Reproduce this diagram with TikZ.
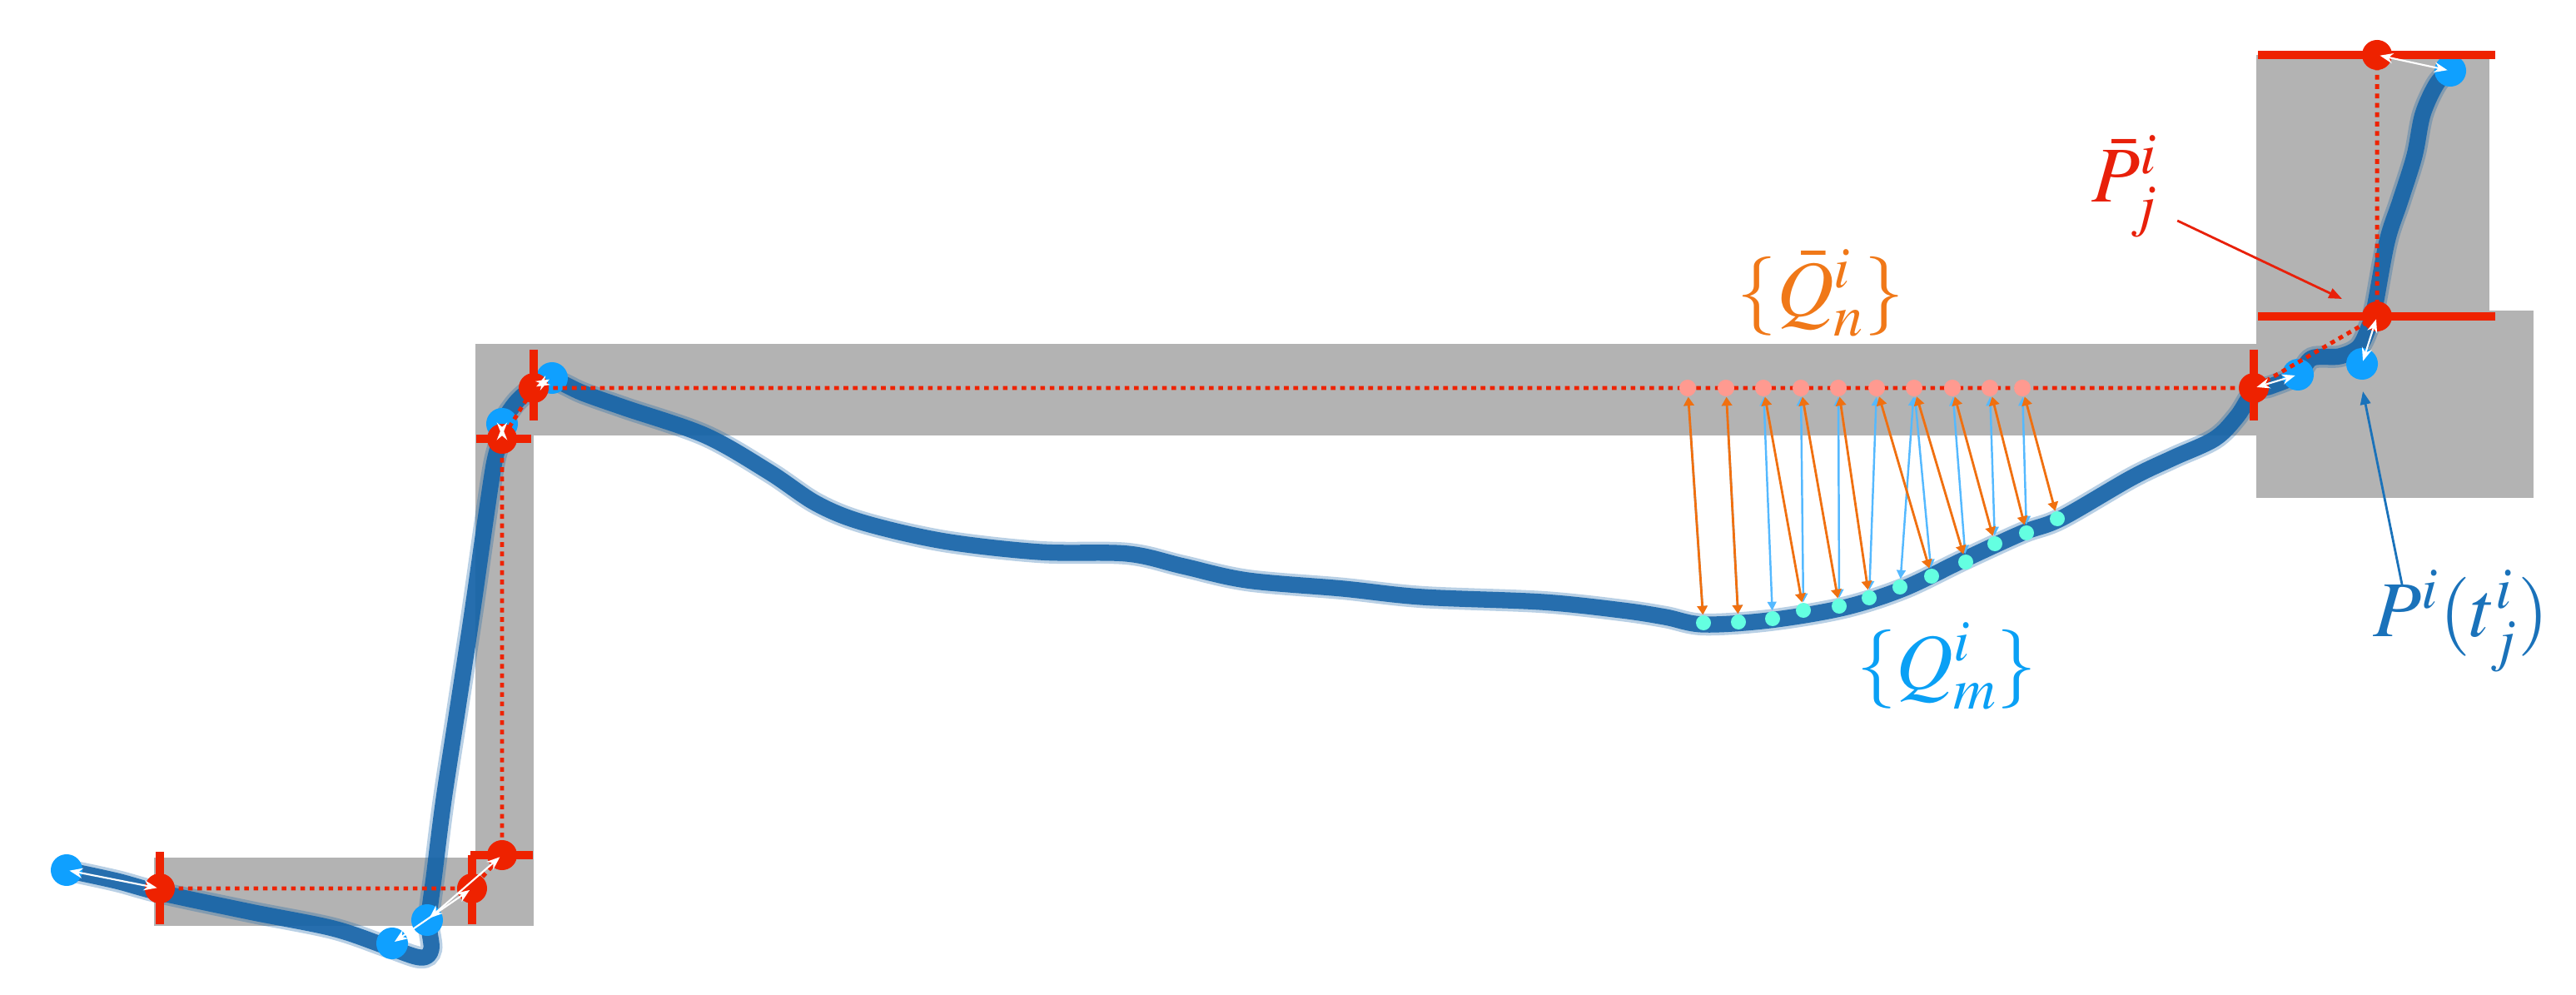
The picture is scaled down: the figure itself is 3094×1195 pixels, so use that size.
\documentclass[tikz,border=0pt]{standalone}
\usepackage{mathptmx}
\usetikzlibrary{arrows.meta,calc}

\definecolor{boxgray}{RGB}{179,179,179}
\definecolor{segred}{RGB}{238,34,0}
\definecolor{ptblue}{RGB}{15,160,255}
\definecolor{trajblue}{RGB}{22,100,168}
\definecolor{qcyan}{RGB}{100,255,225}
\definecolor{qpink}{RGB}{255,154,144}
\definecolor{qline}{RGB}{85,185,255}
\definecolor{qorange}{RGB}{240,112,16}
\definecolor{labred}{RGB}{232,32,10}
\definecolor{labblue}{RGB}{26,114,186}
\definecolor{laborange}{RGB}{240,120,24}
\definecolor{labcyan}{RGB}{10,160,245}

\begin{document}
\begin{tikzpicture}[x=0.01cm,y=-0.01cm,
    rdot/.style={circle,fill=segred,inner sep=0pt,minimum size=0.36cm},
    bdot/.style={circle,fill=ptblue,inner sep=0pt,minimum size=0.38cm},
    qdot/.style={circle,fill=qcyan,inner sep=0pt,minimum size=0.18cm},
    qbdot/.style={circle,fill=qpink,inner sep=0pt,minimum size=0.2cm},
    segtick/.style={segred,line width=2.8pt},
    refline/.style={segred,line width=1.4pt,dash pattern=on 1.6pt off 1.6pt},
    warr/.style={white,line width=0.6pt,{Stealth[length=4.5pt,width=3.5pt]}-{Stealth[length=4.5pt,width=3.5pt]},shorten <=1pt,shorten >=1pt},
    oarr/.style={qorange,line width=0.8pt,{Triangle[length=3pt,width=3.5pt]}-{Triangle[length=3pt,width=3.5pt]}},
    larr/.style={qline,line width=0.7pt,{Triangle[length=3pt,width=3pt]}-{Triangle[length=3pt,width=3pt]}},
    lab/.style={font=\fontsize{27}{32}\selectfont,inner sep=0pt}]
  \useasboundingbox (0,0) rectangle (3094,1195);

  %% corridor
  \fill[boxgray] (185,1030) rectangle (641,1112);
  \fill[boxgray] (571,413) rectangle (641,1112);
  \fill[boxgray] (571,413) rectangle (2710,523);
  \fill[boxgray] (2710,66) rectangle (2990,380);
  \fill[boxgray] (2710,373) rectangle (3043,598);

  %% trajectory
  \draw[trajblue,line width=5.5pt,line cap=round,line join=round,opacity=0.9,
        preaction={draw=trajblue,line width=7.5pt,opacity=0.3}]
    plot[smooth,tension=0.55] coordinates {(80,1045) (140,1058) (192,1072) (300,1095) (400,1115)
      (465,1137) (505,1150) (518,1140) (515,1105) (522,1047) (533,960) (550,849) (567,737)
      (583,625) (593,559) (600,530) (603,509) (620,483) (640,466) (663,456) (700,472) (751,490)
      (847,523) (924,567) (981,605) (1038,628) (1134,650) (1249,663) (1354,665) (1421,680)
      (1498,697) (1613,707) (1708,717) (1852,723) (1948,733) (2000,741) (2046,750) (2125,745)
      (2214,730) (2286,707) (2357,673) (2429,640) (2475,623) (2560,574) (2610,550) (2660,527)
      (2687,500) (2707,470) (2727,464) (2760,450) (2777,430) (2810,428) (2833,417) (2845,393)
      (2852,370) (2867,290) (2883,241) (2900,187) (2910,137) (2927,100) (2943,85)};

  %% trajectory points
  \node[bdot] (b1) at (80,1045) {};
  \node[bdot] (b2) at (471,1133) {};
  \node[bdot] (b3) at (513,1105) {};
  \node[bdot] (b4) at (603,509) {};
  \node[bdot] (b5) at (663,454) {};
  \node[bdot] (b6) at (2760,450) {};
  \node[bdot] (b7) at (2837,437) {};
  \node[bdot] (b8) at (2943,85) {};

  %% segment end points
  \node[rdot] (r1) at (192,1067) {};
  \node[rdot] (r2) at (567,1067) {};
  \node[rdot] (r3) at (603,1027) {};
  \node[rdot] (r4) at (603,527) {};
  \node[rdot] (r5) at (641,466) {};
  \node[rdot] (r6) at (2707,466) {};
  \node[rdot] (r7) at (2855,380) {};
  \node[rdot] (r8) at (2855,66) {};

  \draw[refline] (r1.center) -- (r2.center) -- (r3.center) -- (r4.center) -- (r5.center)
    -- (r6.center) -- (r7.center) -- (r8.center);

  %% ticks
  \draw[segtick] (192,1023) -- (192,1110);
  \draw[segtick] (567,1027) -- (567,1110);
  \draw[segtick] (565,1027) -- (640,1027);
  \draw[segtick] (572,527) -- (638,527);
  \draw[segtick] (641,420) -- (641,505);
  \draw[segtick] (2707,420) -- (2707,505);
  \draw[segtick] (2712,380) -- (2997,380);
  \draw[segtick] (2712,66) -- (2997,66);

  \foreach \k in {1,...,8}
    \draw[warr] (b\k.center) -- (r\k.center);

  %% sampled points
  \foreach \x/\y [count=\k] in {2046/748,2088/747,2129/743,2166/733,2209/728,2245/718,
      2282/705,2320/692,2361/675,2396/653,2434/640,2471/623}
    \node[qdot] (q\k) at (\x,\y) {};
  \foreach \x [count=\k] in {2027,2073,2118,2163,2208,2254,2299,2345,2390,2429}
    \node[qbdot] (qb\k) at (\x,466) {};

  \foreach \a/\b in {1/1,2/2,3/3,4/4,5/5,6/6,7/7,8/7,9/8,10/9,11/10}
    \draw[larr] (q\a) -- (qb\b);
  \foreach \a/\b in {1/1,2/2,3/4,4/5,5/6,6/8,7/9,8/10,9/11,10/12}
    \draw[oarr] (qb\a) -- (q\b);

  %% labels
  \node[lab,text=labred,anchor=base west] (pbar) at (2512,243) {$\bar{P}^i_j$};
  \coordinate (pbartip) at (2813,359);
  \draw[labred,line width=0.8pt,-{Triangle[length=4.5pt,width=3.5pt]}]
    ($(pbar.base east)+(22,22)$) -- (pbartip);

  \node[lab,text=labblue,anchor=base west] (ptl) at (2850,765) {$P^i(t^i_j)$};
  \coordinate (pttip) at (2838,470);
  \draw[labblue,line width=0.8pt,-{Triangle[length=4.5pt,width=3.5pt]}]
    ($(ptl.base west)+(35,-63)$) -- (pttip);

  \node[lab,text=laborange] (qbl) at (2187,352) {$\{\bar{Q}^i_n\}$};
  \node[lab,text=labcyan] (ql) at (2338,800) {$\{Q^i_m\}$};
\end{tikzpicture}
\end{document}
